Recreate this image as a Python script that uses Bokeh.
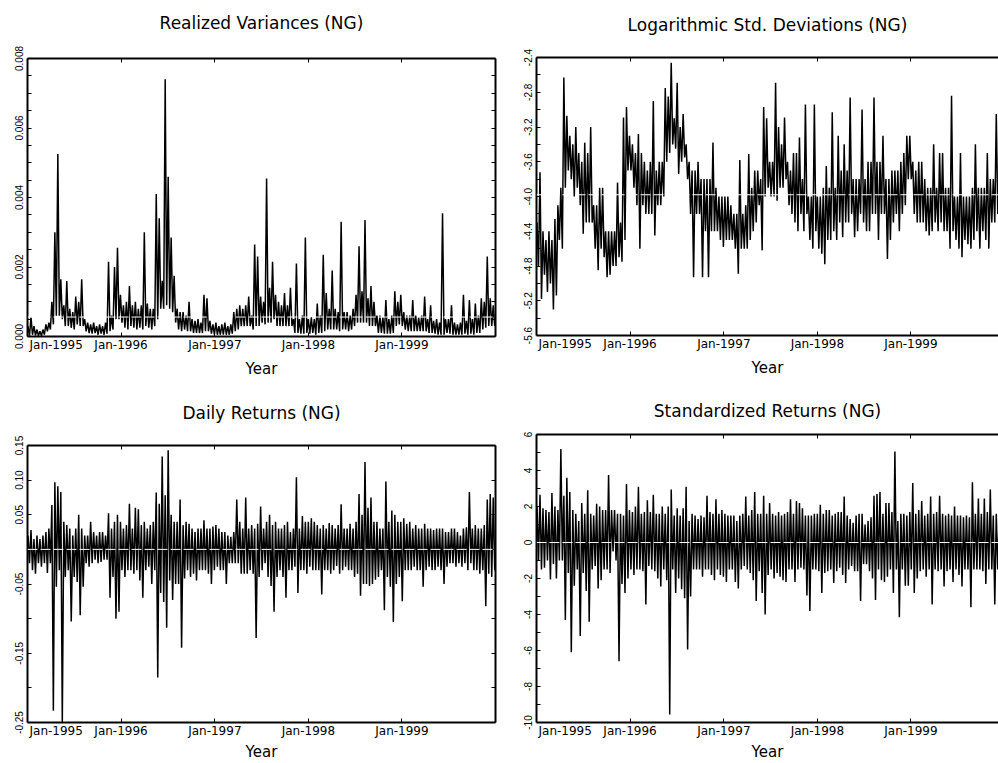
import pandas as pd
from bokeh.plotting import figure
from bokeh.models import (Range1d, FixedTicker, LinearAxis, DatetimeAxis, Span,
                          PrintfTickFormatter, CustomJSTickFormatter)
from bokeh.layouts import column, row
from bokeh.embed import file_html
from bokeh.resources import INLINE

# ---------------- data ----------------
# Each daily series is dense; it is recorded as the top and bottom of the
# plotted trace at ~157 evenly spaced dates (Jan-1995 .. Dec-1999).
start_date = "1995-01-03"
end_date = "1999-12-29"
year_labels = ["Jan-1995", "Jan-1996", "Jan-1997", "Jan-1998", "Jan-1999"]
year_tick_dates = ["1996-01-01", "1997-01-01", "1998-01-01", "1999-01-01"]

rv_upper = [
    0.3e-3, 0.55e-3, 0.3e-3, 0.2e-3, 0.15e-3, 0.2e-3, 0.35e-3, 0.4e-3, 1.0e-3, 3.0e-3,
    5.25e-3, 1.65e-3, 0.9e-3, 1.6e-3, 0.8e-3, 0.7e-3, 1.15e-3, 1.0e-3, 1.65e-3, 0.5e-3,
    0.4e-3, 0.35e-3, 0.4e-3, 0.3e-3, 0.35e-3, 0.3e-3, 0.4e-3, 2.15e-3, 0.6e-3, 2.0e-3,
    2.55e-3, 1.2e-3, 0.9e-3, 1.0e-3, 1.45e-3, 0.9e-3, 1.0e-3, 0.8e-3, 0.9e-3, 3.0e-3,
    0.95e-3, 0.8e-3, 0.8e-3, 4.1e-3, 3.4e-3, 1.6e-3, 7.4e-3, 4.6e-3, 2.85e-3, 1.75e-3,
    0.8e-3, 0.7e-3, 0.7e-3, 0.6e-3, 1.0e-3, 0.5e-3, 0.45e-3, 0.5e-3, 0.4e-3, 1.2e-3,
    1.1e-3, 0.45e-3, 0.35e-3, 0.4e-3, 0.3e-3, 0.35e-3, 0.4e-3, 0.3e-3, 0.35e-3, 0.7e-3,
    0.8e-3, 0.9e-3, 0.8e-3, 0.9e-3, 1.15e-3, 0.6e-3, 2.65e-3, 2.3e-3, 1.15e-3, 1.0e-3,
    4.55e-3, 1.4e-3, 2.15e-3, 1.2e-3, 1.0e-3, 0.9e-3, 1.25e-3, 0.9e-3, 1.4e-3, 0.5e-3,
    2.1e-3, 0.5e-3, 0.6e-3, 2.85e-3, 0.5e-3, 0.55e-3, 0.5e-3, 0.95e-3, 0.6e-3, 2.35e-3,
    1.25e-3, 0.8e-3, 1.9e-3, 0.8e-3, 0.7e-3, 3.3e-3, 0.7e-3, 0.7e-3, 0.6e-3, 0.8e-3,
    1.2e-3, 2.6e-3, 1.3e-3, 3.35e-3, 1.1e-3, 1.45e-3, 1.0e-3, 0.6e-3, 0.6e-3, 0.55e-3,
    1.05e-3, 0.5e-3, 0.6e-3, 1.3e-3, 1.0e-3, 1.2e-3, 0.7e-3, 0.6e-3, 0.6e-3, 1.05e-3,
    0.6e-3, 0.55e-3, 0.6e-3, 1.15e-3, 0.5e-3, 0.9e-3, 0.45e-3, 0.5e-3, 0.4e-3, 3.55e-3,
    0.5e-3, 0.5e-3, 0.9e-3, 0.4e-3, 0.35e-3, 0.4e-3, 1.2e-3, 0.45e-3, 1.05e-3, 0.5e-3,
    0.95e-3, 0.6e-3, 1.1e-3, 1.0e-3, 2.3e-3, 1.1e-3, 0.9e-3,
]
rv_lower = [
    0.02e-3, 0.05e-3, 0.03e-3, 0.02e-3, 0.02e-3, 0.05e-3, 0.15e-3, 0.2e-3, 0.35e-3, 0.6e-3,
    0.6e-3, 0.5e-3, 0.3e-3, 0.3e-3, 0.25e-3, 0.2e-3, 0.35e-3, 0.3e-3, 0.3e-3, 0.15e-3,
    0.1e-3, 0.08e-3, 0.1e-3, 0.05e-3, 0.08e-3, 0.05e-3, 0.08e-3, 0.15e-3, 0.2e-3, 0.5e-3,
    0.5e-3, 0.4e-3, 0.25e-3, 0.2e-3, 0.3e-3, 0.25e-3, 0.2e-3, 0.25e-3, 0.2e-3, 0.3e-3,
    0.25e-3, 0.2e-3, 0.3e-3, 0.5e-3, 0.8e-3, 0.8e-3, 0.9e-3, 0.8e-3, 0.7e-3, 0.4e-3,
    0.2e-3, 0.15e-3, 0.2e-3, 0.15e-3, 0.15e-3, 0.1e-3, 0.1e-3, 0.1e-3, 0.1e-3, 0.15e-3,
    0.15e-3, 0.08e-3, 0.05e-3, 0.05e-3, 0.05e-3, 0.05e-3, 0.05e-3, 0.05e-3, 0.08e-3, 0.15e-3,
    0.2e-3, 0.3e-3, 0.3e-3, 0.3e-3, 0.3e-3, 0.2e-3, 0.3e-3, 0.3e-3, 0.4e-3, 0.35e-3,
    0.4e-3, 0.4e-3, 0.5e-3, 0.3e-3, 0.3e-3, 0.3e-3, 0.3e-3, 0.3e-3, 0.3e-3, 0.1e-3,
    0.1e-3, 0.08e-3, 0.08e-3, 0.1e-3, 0.08e-3, 0.1e-3, 0.05e-3, 0.1e-3, 0.1e-3, 0.15e-3,
    0.2e-3, 0.2e-3, 0.2e-3, 0.2e-3, 0.15e-3, 0.2e-3, 0.2e-3, 0.15e-3, 0.2e-3, 0.3e-3,
    0.4e-3, 0.4e-3, 0.4e-3, 0.4e-3, 0.3e-3, 0.3e-3, 0.3e-3, 0.1e-3, 0.1e-3, 0.08e-3,
    0.08e-3, 0.08e-3, 0.1e-3, 0.3e-3, 0.35e-3, 0.3e-3, 0.2e-3, 0.15e-3, 0.15e-3, 0.15e-3,
    0.15e-3, 0.15e-3, 0.15e-3, 0.15e-3, 0.1e-3, 0.1e-3, 0.08e-3, 0.05e-3, 0.05e-3, 0.05e-3,
    0.1e-3, 0.08e-3, 0.05e-3, 0.05e-3, 0.05e-3, 0.05e-3, 0.08e-3, 0.05e-3, 0.08e-3, 0.05e-3,
    0.1e-3, 0.1e-3, 0.2e-3, 0.25e-3, 0.3e-3, 0.3e-3, 0.3e-3,
]
rv_mean = 0.00056

ls_upper = [
    -4.3, -3.72, -4.4, -4.5, -4.4, -4.5, -4.26, -4.1, -3.9, -2.63,
    -3.07, -3.3, -3.4, -3.2, -3.5, -3.6, -3.38, -3.5, -3.2, -4.1,
    -4.1, -3.9, -3.9, -4.4, -4.4, -4.4, -4.4, -3.84, -4.3, -3.09,
    -2.97, -3.3, -3.4, -3.5, -3.28, -3.5, -3.6, -3.7, -3.6, -2.9,
    -3.7, -3.6, -3.6, -2.75, -2.85, -2.46, -3.1, -2.69, -3.2, -3.05,
    -3.4, -3.6, -3.7, -3.7, -3.6, -3.8, -3.8, -3.8, -3.8, -3.38,
    -3.9, -4.0, -4.0, -4.0, -4.0, -4.1, -4.2, -4.2, -3.58, -4.2,
    -4.1, -3.51, -3.9, -3.7, -3.7, -3.8, -2.97, -3.1, -3.6, -3.6,
    -2.69, -3.2, -3.4, -3.09, -3.6, -3.7, -3.5, -3.5, -3.32, -3.8,
    -2.94, -4.0, -4.0, -2.94, -4.0, -4.0, -3.9, -3.65, -3.9, -3.03,
    -3.9, -3.3, -3.7, -3.4, -3.7, -2.86, -3.8, -3.8, -3.8, -3.0,
    -3.8, -3.6, -3.6, -2.86, -3.6, -3.6, -3.3, -3.8, -3.8, -3.7,
    -3.7, -3.7, -3.6, -3.5, -3.3, -3.3, -3.6, -3.7, -3.6, -3.6,
    -3.8, -3.9, -3.9, -3.4, -3.9, -3.5, -3.5, -3.9, -3.9, -2.84,
    -4.0, -4.0, -3.5, -4.0, -4.0, -4.0, -3.9, -3.4, -3.9, -3.9,
    -3.9, -3.5, -3.8, -3.8, -3.05, -3.6, -3.8,
]
ls_lower = [
    -4.8, -5.18, -4.9, -5.1, -5.0, -5.3, -5.14, -4.5, -4.6, -3.9,
    -3.7, -3.8, -4.0, -3.9, -4.1, -4.43, -4.3, -4.3, -4.3, -4.6,
    -4.85, -4.6, -4.7, -4.93, -4.9, -4.8, -4.8, -4.7, -4.75, -4.5,
    -3.7, -3.7, -3.9, -4.1, -4.6, -4.1, -4.2, -4.2, -4.2, -4.45,
    -4.1, -4.1, -4.0, -3.6, -3.5, -3.4, -3.45, -3.74, -3.6, -3.55,
    -3.8, -4.2, -4.93, -4.2, -4.2, -4.93, -4.4, -4.93, -4.4, -4.4,
    -4.4, -4.5, -4.58, -4.5, -4.5, -4.5, -4.6, -4.89, -4.6, -4.6,
    -4.6, -4.5, -4.4, -4.3, -4.1, -4.62, -4.0, -3.9, -4.0, -4.0,
    -4.05, -3.9, -3.9, -3.8, -4.1, -4.2, -4.3, -4.4, -4.2, -4.4,
    -4.2, -4.5, -4.6, -4.4, -4.6, -4.66, -4.78, -4.5, -4.5, -4.4,
    -4.5, -4.3, -4.47, -4.3, -4.3, -4.2, -4.47, -4.4, -4.2, -4.3,
    -4.4, -4.4, -4.2, -4.2, -4.5, -4.2, -4.2, -4.72, -4.5, -4.3,
    -4.2, -4.4, -4.2, -4.1, -3.8, -3.8, -4.2, -4.3, -4.3, -4.3,
    -4.4, -4.45, -4.4, -4.3, -4.4, -4.3, -4.4, -4.4, -4.6, -4.4,
    -4.5, -4.6, -4.7, -4.5, -4.55, -4.6, -4.5, -4.4, -4.6, -4.4,
    -4.5, -4.6, -4.3, -4.3, -4.2, -4.2, -4.3,
]
ls_mean = -3.98

dr_upper = [
    0.02, 0.028, 0.015, 0.02, 0.015, 0.02, 0.025, 0.03, 0.064, 0.097,
    0.091, 0.083, 0.04, 0.035, 0.03, 0.02, 0.03, 0.05, 0.03, 0.02,
    0.02, 0.04, 0.025, 0.02, 0.025, 0.025, 0.02, 0.052, 0.03, 0.04,
    0.05, 0.04, 0.03, 0.035, 0.066, 0.03, 0.06, 0.058, 0.035, 0.04,
    0.03, 0.035, 0.04, 0.082, 0.066, 0.134, 0.078, 0.143, 0.05, 0.04,
    0.04, 0.072, 0.035, 0.04, 0.037, 0.03, 0.025, 0.03, 0.03, 0.042,
    0.03, 0.03, 0.033, 0.035, 0.03, 0.025, 0.025, 0.02, 0.018, 0.025,
    0.072, 0.04, 0.03, 0.075, 0.03, 0.035, 0.03, 0.037, 0.062, 0.03,
    0.04, 0.05, 0.035, 0.04, 0.03, 0.03, 0.035, 0.04, 0.025, 0.03,
    0.104, 0.03, 0.048, 0.04, 0.04, 0.045, 0.04, 0.035, 0.03, 0.035,
    0.03, 0.038, 0.035, 0.03, 0.035, 0.065, 0.03, 0.03, 0.037, 0.03,
    0.04, 0.08, 0.05, 0.126, 0.06, 0.075, 0.04, 0.04, 0.03, 0.03,
    0.098, 0.04, 0.056, 0.05, 0.04, 0.04, 0.045, 0.037, 0.04, 0.03,
    0.035, 0.03, 0.03, 0.037, 0.03, 0.03, 0.028, 0.03, 0.03, 0.03,
    0.025, 0.025, 0.03, 0.03, 0.025, 0.02, 0.03, 0.032, 0.083, 0.03,
    0.035, 0.03, 0.03, 0.035, 0.072, 0.08, 0.075,
]
dr_lower = [
    -0.02, -0.03, -0.035, -0.02, -0.025, -0.02, -0.034, -0.02, -0.233, -0.054,
    -0.03, -0.25, -0.04, -0.03, -0.104, -0.04, -0.047, -0.095, -0.054, -0.02,
    -0.025, -0.02, -0.015, -0.02, -0.018, -0.015, -0.015, -0.07, -0.04, -0.1,
    -0.09, -0.03, -0.04, -0.03, -0.03, -0.035, -0.03, -0.045, -0.07, -0.03,
    -0.025, -0.05, -0.03, -0.185, -0.063, -0.076, -0.113, -0.045, -0.073, -0.05,
    -0.05, -0.142, -0.042, -0.03, -0.04, -0.035, -0.045, -0.03, -0.03, -0.03,
    -0.035, -0.05, -0.03, -0.025, -0.03, -0.03, -0.05, -0.02, -0.02, -0.02,
    -0.02, -0.035, -0.035, -0.035, -0.03, -0.035, -0.128, -0.04, -0.03, -0.02,
    -0.04, -0.053, -0.09, -0.04, -0.03, -0.04, -0.07, -0.03, -0.03, -0.025,
    -0.063, -0.03, -0.03, -0.035, -0.025, -0.03, -0.03, -0.03, -0.065, -0.03,
    -0.03, -0.035, -0.03, -0.024, -0.035, -0.03, -0.025, -0.03, -0.03, -0.04,
    -0.035, -0.067, -0.05, -0.05, -0.053, -0.05, -0.044, -0.04, -0.03, -0.088,
    -0.04, -0.054, -0.105, -0.05, -0.04, -0.075, -0.03, -0.03, -0.03, -0.025,
    -0.03, -0.03, -0.054, -0.03, -0.025, -0.03, -0.03, -0.025, -0.03, -0.05,
    -0.025, -0.02, -0.02, -0.025, -0.02, -0.025, -0.02, -0.03, -0.02, -0.03,
    -0.03, -0.035, -0.03, -0.082, -0.035, -0.04, -0.03,
]
dr_mean = 0.0

sr_upper = [
    2.0, 2.65, 1.9, 1.8, 1.7, 2.75, 2.0, 1.8, 5.2, 2.6,
    3.6, 2.8, 1.8, 1.6, 1.2, 2.2, 1.6, 2.9, 1.6, 1.5,
    2.15, 2.0, 1.8, 1.8, 3.75, 1.8, 1.8, 1.6, 1.6, 1.5,
    3.25, 1.8, 1.7, 2.0, 3.1, 1.6, 1.7, 2.35, 1.7, 2.65,
    1.6, 1.6, 2.0, 1.6, 2.0, 2.95, 1.5, 1.9, 1.5, 1.9,
    3.1, 1.2, 1.6, 1.5, 1.3, 1.5, 1.4, 2.6, 1.7, 1.6,
    2.4, 1.6, 1.8, 1.6, 1.5, 1.5, 1.5, 1.2, 1.5, 1.6,
    2.55, 1.5, 1.8, 2.8, 1.6, 1.6, 2.6, 1.6, 2.2, 1.6,
    1.5, 1.7, 1.5, 1.6, 1.7, 2.4, 1.6, 2.3, 2.2, 1.9,
    1.5, 1.5, 1.5, 1.6, 1.6, 2.1, 1.6, 1.8, 1.8, 1.5,
    1.6, 1.7, 1.7, 2.55, 1.5, 1.3, 1.1, 1.5, 1.6, 1.6,
    1.0, 1.2, 1.4, 2.6, 2.7, 2.8, 1.6, 2.2, 2.2, 1.7,
    5.05, 1.2, 1.6, 1.6, 1.5, 1.7, 3.3, 1.6, 1.8, 2.3,
    1.5, 1.6, 2.55, 1.6, 1.7, 2.6, 1.6, 1.5, 1.6, 1.5,
    2.0, 1.5, 1.5, 1.4, 1.5, 1.4, 3.35, 1.6, 2.45, 1.6,
    2.45, 1.7, 2.95, 1.5, 1.6, 1.6, 1.5,
]
sr_lower = [
    -1.0, -1.5, -1.4, -1.0, -2.05, -1.2, -2.0, -1.0, -1.0, -4.3,
    -1.7, -6.1, -2.4, -1.5, -5.2, -1.7, -2.7, -4.4, -1.5, -1.3,
    -2.55, -2.1, -1.5, -1.5, -1.7, -0.5, -1.0, -6.6, -2.3, -2.8,
    -2.0, -1.5, -1.8, -1.5, -1.5, -1.6, -3.45, -1.3, -1.5, -1.6,
    -2.0, -2.45, -1.5, -2.1, -9.55, -1.5, -2.8, -2.0, -2.6, -3.1,
    -5.95, -3.0, -1.5, -1.5, -1.5, -1.9, -1.5, -1.5, -1.8, -2.1,
    -1.5, -1.8, -1.9, -2.2, -1.5, -1.5, -2.2, -2.55, -1.5, -1.3,
    -1.5, -1.7, -2.1, -3.25, -1.6, -2.8, -4.0, -1.8, -1.5, -2.0,
    -1.7, -1.9, -2.1, -2.2, -1.5, -1.5, -2.2, -1.5, -1.4, -1.5,
    -2.95, -3.8, -1.5, -1.5, -1.6, -2.8, -1.7, -1.6, -1.5, -2.25,
    -1.6, -1.4, -1.8, -2.25, -1.5, -1.3, -1.6, -1.6, -3.25, -1.2,
    -1.2, -1.6, -2.0, -3.2, -1.5, -2.1, -2.2, -1.9, -1.5, -2.8,
    -1.5, -4.15, -1.5, -2.4, -2.4, -1.5, -2.8, -2.0, -1.6, -1.5,
    -1.9, -1.5, -3.45, -1.5, -1.6, -1.5, -2.45, -1.6, -1.5, -2.2,
    -1.5, -1.8, -2.45, -1.5, -1.5, -3.6, -1.5, -1.5, -1.5, -1.6,
    -2.3, -1.5, -1.5, -3.45, -1.5, -2.2, -1.5,
]
sr_mean = 0.0

rv_ticks = [0.0, 0.002, 0.004, 0.006, 0.008]
rv_minor = [0.0005, 0.001, 0.0015, 0.0025, 0.003, 0.0035, 0.0045, 0.005, 0.0055, 0.0065, 0.007, 0.0075]
ls_ticks = [-5.6, -5.2, -4.8, -4.4, -4.0, -3.6, -3.2, -2.8, -2.4]
ls_minor = [-5.4, -5.0, -4.6, -4.2, -3.8, -3.4, -3.0, -2.6]
dr_ticks = [-0.25, -0.15, -0.05, 0.05, 0.10, 0.15]
dr_minor = [-0.20, -0.10, 0.0]
sr_ticks = [-10, -8, -6, -4, -2, 0, 2, 4, 6]
sr_minor = [-9, -7, -5, -3, -1, 1, 3, 5]

# ---------------- styling ----------------
FONT = "DejaVu Sans"
TICK_FONT = "Liberation Sans"
FULL_W = 468            # frame width covering Jan-1995 .. Jan-2000
FIRST_LABEL_DAYS = 112  # first year label sits just right of the frame edge


def ms(s):
    return pd.Timestamp(s).value / 1e6


X0 = ms("1995-01-01")
X1 = ms("2000-01-01")
year_ticks = [ms(d) for d in year_tick_dates]
label_ticks = [X0 + FIRST_LABEL_DAYS * 86400000.0] + year_ticks


def style_axis(ax, ticks=True):
    ax.axis_line_width = 2
    ax.axis_line_color = "black"
    ax.major_tick_in = 4 if ticks else 0
    ax.major_tick_out = 0
    ax.minor_tick_in = 4 if ticks else 0
    ax.minor_tick_out = 0
    ax.major_tick_line_width = 1
    ax.minor_tick_line_width = 1
    ax.major_tick_line_color = "black"
    ax.minor_tick_line_color = "black"


def silent(ax):
    ax.formatter = CustomJSTickFormatter(code="return ''")
    ax.major_label_text_font_size = "1px"
    ax.major_label_standoff = 0


def make_panel(title, upper, lower, mean, ylo, yhi, yticks, yminor, yfmt,
               fw, fh, mbl, mbr, mbt, mbb, right_axis, title_gap, year_standoff):
    xend = X0 + (X1 - X0) * fw / FULL_W
    p = figure(width=mbl + fw + mbr, height=mbt + fh + mbb, x_axis_type="datetime",
               x_range=Range1d(X0, xend), y_range=Range1d(ylo, yhi),
               output_backend="svg", toolbar_location=None,
               min_border_left=mbl, min_border_right=mbr,
               min_border_top=mbt, min_border_bottom=mbb)
    p.outline_line_color = None
    p.background_fill_color = "white"
    p.border_fill_color = "white"
    p.xgrid.visible = False
    p.ygrid.visible = False
    p.title.text = ""
    p.title.visible = False

    xt = FixedTicker(ticks=year_ticks)
    xa = p.xaxis[0]
    xa.ticker = xt
    style_axis(xa)
    silent(xa)
    lab = LinearAxis(ticker=FixedTicker(ticks=label_ticks),
                     formatter=CustomJSTickFormatter(args=dict(labels=year_labels),
                                                     code="return labels[index]"))
    style_axis(lab, ticks=False)
    lab.axis_line_color = None
    lab.major_label_standoff = 1
    lab.major_label_text_font = FONT
    lab.major_label_text_font_size = "12px"
    lab.major_label_text_color = "black"
    lab.axis_label = "Year"
    lab.axis_label_text_font = FONT
    lab.axis_label_text_font_size = "15px"
    lab.axis_label_text_font_style = "normal"
    lab.axis_label_text_color = "black"
    lab.axis_label_standoff = year_standoff
    p.add_layout(lab, "below")

    # top frame line with inward ticks; its axis label carries the panel title
    top = DatetimeAxis(ticker=xt)
    style_axis(top)
    silent(top)
    top.axis_label = title
    top.axis_label_text_font = FONT
    top.axis_label_text_font_size = "17px"
    top.axis_label_text_font_style = "normal"
    top.axis_label_text_color = "black"
    top.axis_label_standoff = title_gap
    p.add_layout(top, "above")

    yt = FixedTicker(ticks=yticks, minor_ticks=yminor)
    ya = p.yaxis[0]
    ya.ticker = yt
    ya.formatter = PrintfTickFormatter(format=yfmt)
    style_axis(ya)
    ya.major_label_orientation = "vertical"
    ya.major_label_standoff = 5
    ya.major_label_text_font = TICK_FONT
    ya.major_label_text_font_size = "10px"
    ya.major_label_text_color = "black"

    if right_axis:
        ra = LinearAxis(ticker=yt)
        style_axis(ra)
        silent(ra)
        p.add_layout(ra, "right")

    trace = [v for pair in zip(upper, lower) for v in pair]
    dates = pd.date_range(start_date, end_date, periods=len(trace))
    p.line(dates, trace, line_color="black", line_width=1.5)
    p.add_layout(Span(location=mean, dimension="width", line_color="white",
                      line_width=1, line_dash="10 3"))
    return p


p1 = make_panel("Realized Variances (NG)", rv_upper, rv_lower, rv_mean, 0.0, 0.008,
                rv_ticks, rv_minor, "%.3f", 468, 278, 27, 22, 58, 46, True, 26, 5)
p2 = make_panel("Logarithmic Std. Deviations (NG)", ls_upper, ls_lower, ls_mean, -5.6, -2.4,
                ls_ticks, ls_minor, "%.1f", 462, 278, 19, 0, 57, 47, False, 23, 5)
p3 = make_panel("Daily Returns (NG)", dr_upper, dr_lower, dr_mean, -0.25, 0.15,
                dr_ticks, dr_minor, "%.2f", 468, 278, 27, 22, 63, 40, True, 23, 2)
p4 = make_panel("Standardized Returns (NG)", sr_upper, sr_lower, sr_mean, -10, 6,
                sr_ticks, sr_minor, "%d", 462, 289, 19, 0, 52, 40, False, 14, 2)

layout = column(row(column(p1), column(p2)), row(column(p3), column(p4)))
open("out.html", "w").write(file_html(layout, INLINE))
